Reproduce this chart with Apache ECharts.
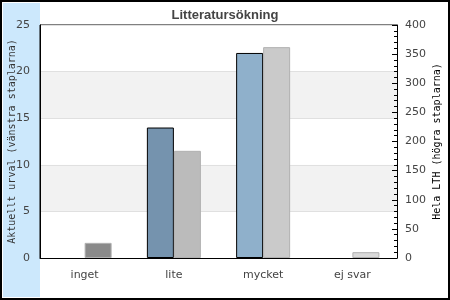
<!DOCTYPE html>
<html><head><meta charset="utf-8">
<script src="https://cdn.jsdelivr.net/npm/echarts@6/dist/echarts.min.js"></script>
<style>html,body{margin:0;padding:0;background:#fff}#c{width:450px;height:300px}</style>
</head><body><div id="c"></div>
<script>
const title = 'Litteratursökning';
const categories = ['inget', 'lite', 'mycket', 'ej svar'];
const leftValues = [0, 14, 22, 0];
const rightValues = [26, 184, 362, 10];
const leftColors = ['#7593ae', '#7593ae', '#8fb0cb', '#8fb0cb'];
const rightColors = ['#8a8a8a', '#bbbbbb', '#cacaca', '#d9d9d9'];
const leftTicks = {min: 0, max: 25, interval: 5};
const rightTicks = {min: 0, max: 400, interval: 50};
const leftName = 'Aktuellt urval (vänstra staplarna)';
const rightName = 'Hela LTH (högra staplarna)';

const chart = echarts.init(document.getElementById('c'), null, {renderer: 'canvas'});
const lab = {color: '#444', fontFamily: 'DejaVu Sans', fontSize: 11};
chart.setOption({
  animation: false,
  backgroundColor: '#fff',
  graphic: [
    {type: 'rect', z: -10, shape: {x: 3, y: 3, width: 37, height: 294}, style: {fill: '#cce8fc'}},
    {type: 'rect', z: 100, shape: {x: 1, y: 1, width: 448, height: 298}, style: {fill: 'none', stroke: '#000', lineWidth: 2}}
  ],
  title: {text: title, left: 'center', top: 4, textStyle: {fontFamily: 'Liberation Sans', fontWeight: 'bold', fontSize: 13, color: '#444'}},
  grid: {left: 40, right: 53, top: 25, bottom: 42, outerBoundsMode: 'none', containLabel: false, show: true, backgroundColor: '#fff', borderColor: '#000', borderWidth: 1},
  xAxis: {type: 'category', data: categories,
    axisLine: {lineStyle: {color: '#000'}}, axisTick: {show: false},
    axisLabel: Object.assign({}, lab, {fontSize: 11, margin: 12})},
  yAxis: [
    {type: 'value', min: leftTicks.min, max: leftTicks.max, interval: leftTicks.interval,
      name: leftName, nameLocation: 'middle', nameGap: 23, nameRotate: 90, nameMoveOverlap: false,
      nameTextStyle: {fontFamily: 'DejaVu Sans Mono', fontSize: 10, color: '#333'},
      axisLine: {show: true, lineStyle: {color: '#000'}}, axisTick: {show: false},
      axisLabel: Object.assign({}, lab, {margin: 10}),
      splitLine: {show: true, lineStyle: {color: '#e0e0e0'}},
      splitArea: {show: true, areaStyle: {color: ['#ffffff', '#f2f2f2']}}},
    {type: 'value', min: rightTicks.min, max: rightTicks.max, interval: rightTicks.interval, position: 'right',
      name: rightName, nameLocation: 'middle', nameGap: 35, nameRotate: 90, nameMoveOverlap: false,
      nameTextStyle: {fontFamily: 'DejaVu Sans Mono', fontSize: 10, color: '#000'},
      axisLine: {show: true, lineStyle: {color: '#000'}},
      axisTick: {show: true, inside: true, length: 5, lineStyle: {color: '#000'}},
      minorTick: {show: true, splitNumber: 5, length: 3, lineStyle: {color: '#000'}},
      axisLabel: Object.assign({}, lab, {margin: 8}),
      splitLine: {show: false}}
  ],
  series: [
    {type: 'bar', yAxisIndex: 0, barWidth: 27, barGap: '0%',
      data: leftValues.map((v, i) => ({value: v === 0 ? '-' : v, itemStyle: {color: leftColors[i], borderColor: '#000', borderWidth: 1}}))},
    {type: 'bar', yAxisIndex: 1, barWidth: 27, barGap: '0%',
      data: rightValues.map((v, i) => ({value: v, itemStyle: {color: rightColors[i], borderColor: '#b0b0b0', borderWidth: 1}}))}
  ]
});
</script></body></html>
